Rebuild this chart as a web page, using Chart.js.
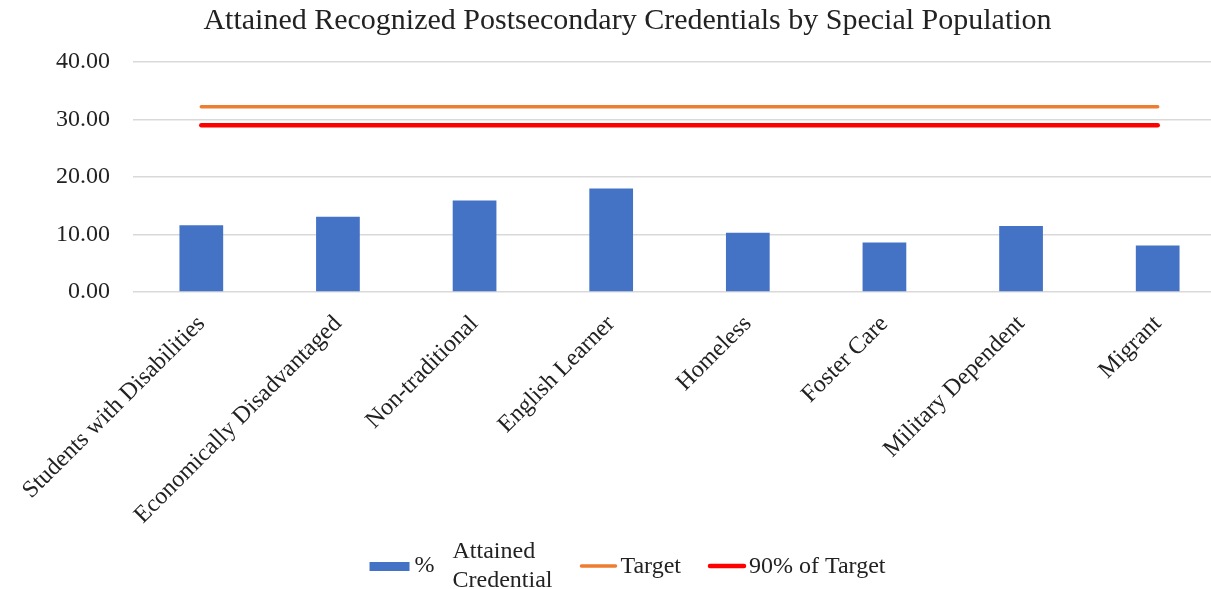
<!DOCTYPE html>
<html lang="en">
<head>
    <meta charset="UTF-8">
    <title>Attained Recognized Postsecondary Credentials</title>
    <style>
        body { margin: 0; padding: 0; background: #fff; overflow: hidden; }
        #wrap { width: 1211px; height: 589px; overflow: hidden; }
    </style>
</head>
<body>
    <div id="wrap">
        <canvas id="chart" width="1255" height="589"></canvas>
    </div>
    <script src="https://cdn.jsdelivr.net/npm/chart.js"></script>
    <script>
    const categories = ['Students with Disabilities', 'Economically Disadvantaged', 'Non-traditional', 'English Learner', 'Homeless', 'Foster Care', 'Military Dependent', 'Migrant'];
    const attained = [11.6, 13.1, 15.9, 18.0, 10.3, 8.6, 11.5, 8.1];
    const target = [32.2, 32.2, 32.2, 32.2, 32.2, 32.2, 32.2, 32.2];
    const target90 = [29.0, 29.0, 29.0, 29.0, 29.0, 29.0, 29.0, 29.0];
    const yMin = 0, yMax = 40, yStep = 10;

    const serif = '"Liberation Serif", "Times New Roman", serif';
    const textColor = '#222';

    // legend drawn by hand so the bar label can wrap like the original
    const legendRow = {
        id: 'legendRow',
        afterDraw(chart) {
            const ctx = chart.ctx;
            ctx.save();
            ctx.font = '24px ' + serif;
            ctx.textBaseline = 'middle';
            const y = chart.height - 23;
            const gap = 27;
            const items = chart.data.datasets.map(d => {
                if (d.type === 'bar') {
                    const words = d.label.split(' ');
                    const head = words[0];
                    const rest = words.slice(1);
                    const w = 40 + 5 + ctx.measureText(head).width + 18 + Math.max(...rest.map(r => ctx.measureText(r).width));
                    return { d, head, rest, w };
                }
                return { d, w: 38 + 3 + ctx.measureText(d.label).width };
            });
            const total = items.reduce((s, it) => s + it.w, 0) + gap * (items.length - 1);
            let x = chart.width / 2 - total / 2;
            items.forEach(it => {
                const d = it.d;
                if (d.type === 'bar') {
                    ctx.fillStyle = d.backgroundColor;
                    ctx.fillRect(x, y - 4, 40, 9);
                    ctx.fillStyle = textColor;
                    ctx.textAlign = 'left';
                    let tx = x + 45;
                    ctx.fillText(it.head, tx, y);
                    tx += ctx.measureText(it.head).width + 18;
                    it.rest.forEach((r, i) => {
                        ctx.fillText(r, tx, y + (i - (it.rest.length - 1) / 2) * 29);
                    });
                } else {
                    ctx.strokeStyle = d.borderColor;
                    ctx.lineWidth = d.borderWidth;
                    ctx.lineCap = 'round';
                    ctx.beginPath();
                    ctx.moveTo(x + 2, y);
                    ctx.lineTo(x + 36, y);
                    ctx.stroke();
                    ctx.fillStyle = textColor;
                    ctx.textAlign = 'left';
                    ctx.fillText(d.label, x + 41, y + 1);
                }
                x += it.w + gap;
            });
            ctx.restore();
        }
    };

    new Chart(document.getElementById('chart'), {
        data: {
            labels: categories,
            datasets: [
                {
                    type: 'bar',
                    label: '% Attained Credential',
                    data: attained,
                    backgroundColor: '#4472C4',
                    categoryPercentage: 1,
                    barPercentage: 0.32,
                    order: 2
                },
                {
                    type: 'line',
                    label: 'Target',
                    data: target,
                    borderColor: '#ED7D31',
                    backgroundColor: '#ED7D31',
                    borderWidth: 3.5,
                    borderCapStyle: 'round',
                    pointRadius: 0,
                    fill: false,
                    order: 1
                },
                {
                    type: 'line',
                    label: '90% of Target',
                    data: target90,
                    borderColor: '#FF0000',
                    backgroundColor: '#FF0000',
                    borderWidth: 4.5,
                    borderCapStyle: 'round',
                    pointRadius: 0,
                    fill: false,
                    order: 0
                }
            ]
        },
        options: {
            responsive: false,
            animation: false,
            layout: { padding: { left: 29, right: 29, top: 0, bottom: 54 } },
            plugins: {
                legend: { display: false },
                tooltip: { enabled: false },
                title: {
                    display: true,
                    text: 'Attained Recognized Postsecondary Credentials by Special Population',
                    color: textColor,
                    font: { family: serif, size: 30, weight: 'normal' },
                    padding: { top: 3, bottom: 23 }
                }
            },
            scales: {
                x: {
                    offset: true,
                    grid: { display: false },
                    border: { display: false },
                    ticks: {
                        color: textColor,
                        font: { family: serif, size: 24 },
                        minRotation: 45,
                        maxRotation: 45,
                        autoSkip: false,
                        padding: 10
                    },
                    afterFit: s => { s.height = 243; }
                },
                y: {
                    min: yMin,
                    max: yMax,
                    grid: { color: '#d9d9d9', lineWidth: 1.5, drawTicks: false },
                    border: { display: false },
                    ticks: {
                        stepSize: yStep,
                        color: textColor,
                        font: { family: serif, size: 24 },
                        padding: 23,
                        callback: v => Number(v).toFixed(2)
                    },
                    afterFit: s => { s.width = 104; }
                }
            }
        },
        plugins: [legendRow]
    });
    </script>
</body>
</html>
